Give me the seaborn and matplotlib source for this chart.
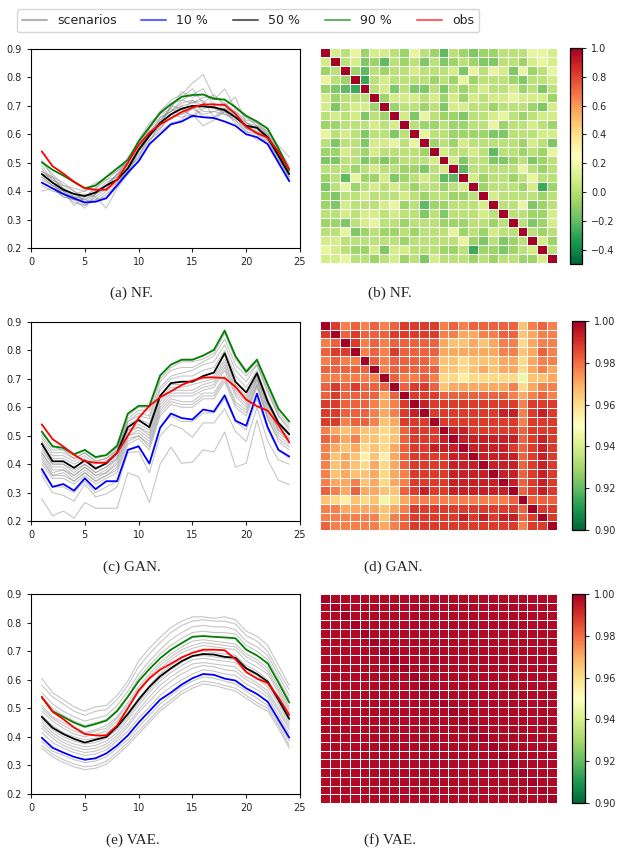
import numpy as np
import pandas as pd
import seaborn as sns
import matplotlib
matplotlib.use('Agg')
import matplotlib.pyplot as plt
from matplotlib.lines import Line2D

W, H = 626, 857
hours = list(range(1, 25))

# observed load, same in every panel
obs = [0.540, 0.488, 0.462, 0.433, 0.410, 0.405, 0.405, 0.440, 0.500, 0.562, 0.605, 0.635,
       0.656, 0.678, 0.694, 0.705, 0.705, 0.703, 0.672, 0.627, 0.604, 0.588, 0.538, 0.477]

# ---- NF ----
nf_q10 = [0.430, 0.410, 0.390, 0.375, 0.360, 0.363, 0.375, 0.420, 0.465, 0.505, 0.565, 0.600,
          0.635, 0.645, 0.665, 0.660, 0.657, 0.645, 0.630, 0.600, 0.590, 0.565, 0.500, 0.435]
nf_q50 = [0.460, 0.430, 0.405, 0.390, 0.383, 0.395, 0.420, 0.440, 0.480, 0.545, 0.595, 0.640,
          0.670, 0.690, 0.700, 0.698, 0.695, 0.685, 0.660, 0.630, 0.623, 0.590, 0.525, 0.460]
nf_q90 = [0.502, 0.475, 0.455, 0.432, 0.410, 0.420, 0.450, 0.480, 0.510, 0.575, 0.625, 0.675,
          0.705, 0.732, 0.738, 0.740, 0.725, 0.722, 0.695, 0.665, 0.645, 0.620, 0.550, 0.475]
nf_scen = [
    [0.47, 0.44, 0.41, 0.38, 0.37, 0.40, 0.43, 0.45, 0.49, 0.55, 0.60, 0.65, 0.68, 0.71, 0.72, 0.70, 0.71, 0.69, 0.66, 0.63, 0.62, 0.59, 0.53, 0.46],
    [0.44, 0.42, 0.39, 0.36, 0.35, 0.37, 0.40, 0.43, 0.47, 0.52, 0.58, 0.62, 0.66, 0.67, 0.69, 0.67, 0.68, 0.67, 0.65, 0.61, 0.60, 0.58, 0.51, 0.45],
    [0.50, 0.46, 0.42, 0.41, 0.40, 0.42, 0.45, 0.47, 0.51, 0.57, 0.63, 0.68, 0.72, 0.74, 0.78, 0.81, 0.73, 0.72, 0.70, 0.66, 0.64, 0.61, 0.55, 0.48],
    [0.40, 0.41, 0.38, 0.37, 0.36, 0.39, 0.41, 0.44, 0.46, 0.54, 0.59, 0.63, 0.70, 0.69, 0.66, 0.71, 0.69, 0.69, 0.66, 0.62, 0.63, 0.58, 0.52, 0.45],
    [0.46, 0.45, 0.40, 0.35, 0.38, 0.40, 0.42, 0.46, 0.50, 0.56, 0.62, 0.66, 0.68, 0.72, 0.74, 0.76, 0.70, 0.71, 0.67, 0.64, 0.62, 0.60, 0.53, 0.47],
    [0.48, 0.43, 0.41, 0.39, 0.37, 0.36, 0.39, 0.42, 0.48, 0.53, 0.58, 0.61, 0.64, 0.65, 0.70, 0.66, 0.66, 0.68, 0.64, 0.61, 0.58, 0.58, 0.52, 0.44],
    [0.45, 0.42, 0.40, 0.38, 0.38, 0.41, 0.45, 0.48, 0.50, 0.58, 0.64, 0.67, 0.69, 0.75, 0.73, 0.74, 0.72, 0.76, 0.69, 0.66, 0.63, 0.60, 0.55, 0.49],
    [0.49, 0.44, 0.42, 0.40, 0.36, 0.37, 0.38, 0.43, 0.47, 0.55, 0.60, 0.62, 0.67, 0.70, 0.71, 0.72, 0.66, 0.69, 0.67, 0.63, 0.61, 0.59, 0.54, 0.47],
    [0.43, 0.41, 0.38, 0.37, 0.39, 0.38, 0.34, 0.41, 0.46, 0.51, 0.57, 0.64, 0.67, 0.66, 0.67, 0.63, 0.65, 0.68, 0.65, 0.62, 0.60, 0.57, 0.50, 0.44],
    [0.47, 0.45, 0.43, 0.40, 0.38, 0.41, 0.44, 0.45, 0.52, 0.56, 0.61, 0.64, 0.70, 0.73, 0.76, 0.71, 0.74, 0.70, 0.73, 0.64, 0.63, 0.61, 0.56, 0.52],
    [0.46, 0.43, 0.39, 0.37, 0.34, 0.39, 0.42, 0.46, 0.49, 0.54, 0.59, 0.66, 0.68, 0.70, 0.66, 0.69, 0.70, 0.67, 0.66, 0.63, 0.62, 0.59, 0.53, 0.46],
    [0.51, 0.45, 0.41, 0.39, 0.40, 0.43, 0.44, 0.47, 0.50, 0.57, 0.62, 0.68, 0.71, 0.72, 0.71, 0.73, 0.73, 0.71, 0.68, 0.65, 0.64, 0.60, 0.54, 0.47],
    [0.45, 0.42, 0.40, 0.37, 0.37, 0.39, 0.42, 0.44, 0.48, 0.55, 0.61, 0.65, 0.69, 0.67, 0.69, 0.70, 0.69, 0.68, 0.67, 0.62, 0.61, 0.59, 0.52, 0.45],
    [0.42, 0.40, 0.39, 0.38, 0.35, 0.38, 0.41, 0.46, 0.48, 0.52, 0.60, 0.63, 0.66, 0.68, 0.72, 0.68, 0.68, 0.69, 0.68, 0.64, 0.62, 0.58, 0.51, 0.46],
]

# ---- GAN ----
gan_q10 = [0.383, 0.320, 0.330, 0.307, 0.350, 0.312, 0.340, 0.340, 0.450, 0.463, 0.402, 0.528,
           0.578, 0.562, 0.557, 0.592, 0.585, 0.642, 0.553, 0.535, 0.648, 0.530, 0.450, 0.427]
gan_q50 = [0.472, 0.410, 0.410, 0.387, 0.413, 0.384, 0.403, 0.440, 0.530, 0.555, 0.530, 0.640,
           0.685, 0.690, 0.690, 0.710, 0.722, 0.790, 0.690, 0.652, 0.720, 0.620, 0.545, 0.505]
gan_q90 = [0.515, 0.463, 0.457, 0.435, 0.450, 0.425, 0.432, 0.465, 0.578, 0.605, 0.605, 0.712,
           0.750, 0.767, 0.767, 0.782, 0.802, 0.870, 0.780, 0.725, 0.767, 0.680, 0.595, 0.550]
gan_scen = [
    [0.50, 0.45, 0.45, 0.42, 0.44, 0.41, 0.42, 0.46, 0.56, 0.59, 0.59, 0.70, 0.74, 0.76, 0.76, 0.77, 0.79, 0.86, 0.77, 0.72, 0.76, 0.67, 0.58, 0.54],
    [0.48, 0.43, 0.43, 0.41, 0.43, 0.40, 0.41, 0.45, 0.55, 0.57, 0.56, 0.67, 0.71, 0.72, 0.73, 0.75, 0.76, 0.82, 0.73, 0.69, 0.75, 0.65, 0.57, 0.52],
    [0.46, 0.40, 0.40, 0.38, 0.40, 0.37, 0.39, 0.43, 0.52, 0.54, 0.52, 0.64, 0.68, 0.68, 0.69, 0.70, 0.71, 0.77, 0.68, 0.64, 0.71, 0.61, 0.54, 0.50],
    [0.44, 0.39, 0.39, 0.36, 0.39, 0.36, 0.38, 0.42, 0.51, 0.53, 0.50, 0.62, 0.66, 0.66, 0.66, 0.68, 0.69, 0.75, 0.66, 0.62, 0.70, 0.60, 0.52, 0.49],
    [0.43, 0.37, 0.38, 0.35, 0.38, 0.35, 0.37, 0.40, 0.50, 0.51, 0.48, 0.60, 0.64, 0.64, 0.64, 0.66, 0.67, 0.73, 0.64, 0.60, 0.69, 0.58, 0.51, 0.48],
    [0.42, 0.36, 0.37, 0.34, 0.37, 0.34, 0.36, 0.39, 0.49, 0.50, 0.47, 0.59, 0.63, 0.62, 0.62, 0.65, 0.65, 0.71, 0.62, 0.59, 0.68, 0.57, 0.50, 0.47],
    [0.40, 0.35, 0.35, 0.33, 0.36, 0.33, 0.35, 0.37, 0.47, 0.49, 0.45, 0.57, 0.61, 0.60, 0.60, 0.63, 0.63, 0.69, 0.60, 0.57, 0.67, 0.56, 0.48, 0.45],
    [0.49, 0.44, 0.44, 0.42, 0.44, 0.41, 0.42, 0.45, 0.55, 0.58, 0.57, 0.69, 0.73, 0.74, 0.74, 0.76, 0.78, 0.84, 0.75, 0.71, 0.75, 0.66, 0.57, 0.53],
    [0.47, 0.42, 0.42, 0.40, 0.42, 0.39, 0.40, 0.44, 0.54, 0.56, 0.54, 0.66, 0.70, 0.71, 0.71, 0.73, 0.74, 0.80, 0.71, 0.67, 0.73, 0.63, 0.55, 0.51],
    [0.45, 0.40, 0.40, 0.37, 0.40, 0.37, 0.39, 0.42, 0.52, 0.53, 0.51, 0.63, 0.67, 0.67, 0.68, 0.69, 0.70, 0.76, 0.67, 0.63, 0.71, 0.61, 0.53, 0.49],
    [0.51, 0.46, 0.45, 0.43, 0.45, 0.42, 0.43, 0.46, 0.57, 0.60, 0.60, 0.71, 0.75, 0.77, 0.77, 0.78, 0.80, 0.87, 0.78, 0.73, 0.77, 0.68, 0.59, 0.55],
    [0.41, 0.36, 0.36, 0.34, 0.37, 0.34, 0.36, 0.38, 0.48, 0.50, 0.46, 0.58, 0.62, 0.61, 0.61, 0.64, 0.64, 0.70, 0.61, 0.58, 0.68, 0.56, 0.49, 0.46],
    [0.44, 0.38, 0.38, 0.36, 0.39, 0.36, 0.37, 0.41, 0.50, 0.52, 0.49, 0.61, 0.65, 0.65, 0.65, 0.67, 0.68, 0.74, 0.65, 0.61, 0.70, 0.59, 0.52, 0.48],
    [0.37, 0.32, 0.32, 0.30, 0.34, 0.30, 0.32, 0.34, 0.45, 0.46, 0.40, 0.53, 0.57, 0.55, 0.55, 0.58, 0.58, 0.63, 0.55, 0.52, 0.63, 0.52, 0.45, 0.42],
    [0.36, 0.30, 0.29, 0.27, 0.33, 0.285, 0.295, 0.32, 0.44, 0.445, 0.37, 0.50, 0.54, 0.525, 0.495, 0.545, 0.545, 0.595, 0.515, 0.48, 0.60, 0.48, 0.415, 0.40],
    [0.278, 0.218, 0.235, 0.21, 0.265, 0.245, 0.245, 0.245, 0.37, 0.355, 0.265, 0.40, 0.46, 0.403, 0.407, 0.45, 0.443, 0.513, 0.39, 0.403, 0.555, 0.415, 0.343, 0.328],
]

# ---- VAE ----
vae_q10 = [0.397, 0.362, 0.345, 0.330, 0.320, 0.325, 0.342, 0.370, 0.405, 0.450, 0.490, 0.530,
           0.555, 0.583, 0.605, 0.620, 0.617, 0.604, 0.597, 0.570, 0.550, 0.523, 0.460, 0.397]
vae_q50 = [0.470, 0.432, 0.410, 0.393, 0.380, 0.390, 0.400, 0.435, 0.480, 0.530, 0.575, 0.612,
           0.640, 0.665, 0.683, 0.690, 0.688, 0.680, 0.677, 0.640, 0.620, 0.593, 0.530, 0.463]
vae_q90 = [0.538, 0.490, 0.470, 0.450, 0.435, 0.445, 0.457, 0.490, 0.540, 0.595, 0.637, 0.675,
           0.705, 0.728, 0.750, 0.753, 0.750, 0.748, 0.745, 0.705, 0.685, 0.657, 0.590, 0.520]
vae_scen = [
    [0.605, 0.555, 0.53, 0.505, 0.49, 0.505, 0.51, 0.545, 0.595, 0.665, 0.71, 0.748, 0.783, 0.805, 0.82, 0.82, 0.815, 0.82, 0.81, 0.77, 0.752, 0.72, 0.65, 0.58],
    [0.58, 0.54, 0.515, 0.49, 0.475, 0.49, 0.495, 0.53, 0.58, 0.645, 0.69, 0.73, 0.765, 0.79, 0.805, 0.81, 0.805, 0.805, 0.795, 0.755, 0.735, 0.70, 0.63, 0.565],
    [0.555, 0.515, 0.49, 0.47, 0.455, 0.465, 0.475, 0.51, 0.56, 0.62, 0.665, 0.705, 0.74, 0.765, 0.785, 0.79, 0.785, 0.785, 0.775, 0.735, 0.715, 0.685, 0.615, 0.545],
    [0.54, 0.50, 0.475, 0.455, 0.44, 0.45, 0.46, 0.495, 0.545, 0.605, 0.65, 0.69, 0.72, 0.745, 0.765, 0.77, 0.765, 0.765, 0.76, 0.72, 0.70, 0.67, 0.60, 0.53],
    [0.51, 0.47, 0.45, 0.43, 0.415, 0.425, 0.44, 0.47, 0.52, 0.575, 0.62, 0.66, 0.69, 0.715, 0.735, 0.74, 0.735, 0.73, 0.725, 0.69, 0.67, 0.64, 0.575, 0.505],
    [0.50, 0.465, 0.44, 0.42, 0.41, 0.42, 0.43, 0.465, 0.51, 0.565, 0.61, 0.65, 0.68, 0.705, 0.72, 0.73, 0.725, 0.72, 0.715, 0.68, 0.66, 0.63, 0.565, 0.495],
    [0.49, 0.455, 0.43, 0.41, 0.40, 0.41, 0.42, 0.455, 0.50, 0.555, 0.60, 0.64, 0.67, 0.695, 0.71, 0.72, 0.715, 0.71, 0.705, 0.665, 0.645, 0.62, 0.555, 0.485],
    [0.475, 0.44, 0.415, 0.40, 0.39, 0.395, 0.41, 0.44, 0.485, 0.535, 0.58, 0.62, 0.65, 0.675, 0.695, 0.70, 0.695, 0.69, 0.685, 0.65, 0.63, 0.60, 0.54, 0.47],
    [0.46, 0.425, 0.40, 0.385, 0.375, 0.38, 0.395, 0.425, 0.47, 0.52, 0.565, 0.605, 0.635, 0.66, 0.68, 0.685, 0.68, 0.675, 0.67, 0.635, 0.615, 0.585, 0.525, 0.455],
    [0.45, 0.415, 0.39, 0.375, 0.365, 0.37, 0.385, 0.415, 0.46, 0.51, 0.555, 0.595, 0.625, 0.65, 0.67, 0.675, 0.67, 0.665, 0.66, 0.625, 0.605, 0.575, 0.515, 0.445],
    [0.44, 0.405, 0.38, 0.365, 0.355, 0.36, 0.375, 0.405, 0.445, 0.495, 0.54, 0.58, 0.61, 0.635, 0.655, 0.66, 0.655, 0.65, 0.645, 0.61, 0.59, 0.56, 0.50, 0.435],
    [0.43, 0.395, 0.37, 0.355, 0.345, 0.35, 0.365, 0.395, 0.435, 0.485, 0.525, 0.565, 0.595, 0.62, 0.64, 0.65, 0.645, 0.635, 0.63, 0.60, 0.58, 0.55, 0.49, 0.425],
    [0.415, 0.38, 0.36, 0.345, 0.335, 0.34, 0.355, 0.385, 0.42, 0.465, 0.505, 0.545, 0.575, 0.60, 0.62, 0.635, 0.63, 0.62, 0.615, 0.585, 0.565, 0.54, 0.475, 0.41],
    [0.385, 0.35, 0.335, 0.32, 0.31, 0.315, 0.33, 0.36, 0.39, 0.435, 0.475, 0.515, 0.545, 0.575, 0.595, 0.61, 0.605, 0.595, 0.585, 0.56, 0.535, 0.51, 0.45, 0.385],
    [0.37, 0.34, 0.32, 0.305, 0.295, 0.30, 0.315, 0.345, 0.38, 0.42, 0.46, 0.50, 0.53, 0.56, 0.58, 0.595, 0.59, 0.58, 0.57, 0.545, 0.52, 0.50, 0.44, 0.37],
    [0.36, 0.33, 0.31, 0.295, 0.285, 0.29, 0.305, 0.335, 0.37, 0.41, 0.45, 0.49, 0.52, 0.55, 0.57, 0.585, 0.58, 0.57, 0.56, 0.535, 0.51, 0.49, 0.43, 0.36],
]

# correlation matrices read cell by cell, one letter per cell
nf_levels = {'X': 1.0, 'Y': 0.16, 'L': 0.09, 'l': 0.01, 'g': -0.07, 'm': -0.14, 'd': -0.21, 'D': -0.28}
nf_rows = [
    "XLlYgLLlgYlgdlgmgglllYYL", "LXlLmgdlglmlmglgmmllgLYL", "glXgdlgllLlllLmYlYLmYglY",
    "YlgXDlLllllglgYglllgmllL", "gmdDXlLmlmmlmlglLllLglml", "LglllXgLLLlLgLgLlLLYLLLg",
    "LmlLLgXgllglmLLllglllgmL", "lLlLmlgXLmYlggmllLYlglLL", "gglllLlLXlgglggllYgllLlg",
    "YlLlmllmlXYllggggmmlllLL", "lmllmLLYlYXglgLlllllgLlm", "ggLlgLllllgXLllLldllglgY",
    "mmllmgmglllLXLmllmmglmgl", "lllglLllggmlLXdlllllYlgl", "gldYggLmglLlddXLgllglYll",
    "mlYglLlLlgllglLXglllgLDg", "gmllLlllLlgllgglXLllllgl", "gmLlllLYgldgglllLXllYmgl",
    "llLlLLlLllmlmlllLlXllggL", "ggmlLYllglllgggllglXlmgL", "llYmglgglglllYglgLllXlgl",
    "LLllllllglllllYgmlmglXLg", "YLlggLmLLlllgglDggmglLXl", "LLYllglLglmLlllglgllggLX",
]
gan_levels = {'X': 1.0, 'R': 0.993, 'r': 0.988, 'o': 0.982, 'O': 0.977, 'a': 0.971,
              'A': 0.966, 'y': 0.961, 'Y': 0.955, 'G': 0.946}
gan_rows = [
    "XrOoOoOorrrrOoOoooooAOoO", "rXorooorrrrrOOaaOOooAaOO", "OoXrOoOoooooaAAaAaOOyaOO",
    "orrXOoOrooooaaaaaaOOAaoO", "OoOOXoOooooOAAyAAAaayaOO", "oooooXOoooooAAyAaAaayaOa",
    "OOOOOOXoOOoOyyYyyyyyGAAa", "ororoooXorroAaaaaaaOyaOO", "orooooaoXrrroooooooOaOoO",
    "rroooOaOrXRrrrrrrrrrOrrr", "rroooOaOrRXrrrrrrrRROrRr", "rrOooOAarrrXrrrrrrrrOrrr",
    "OaAaAAyAorrrXRRrrrrrorrr", "oOaOAAyAorrrRXRRRRRRorRr", "OaAayAyaorrRRRXRRRRrorRr",
    "OAaAYAYaorrrrRRXRRRRorRr", "OAaAyayaorrrrRRRXRRRorRr", "OAaAAayaOrrrrRRRRXRRorRr",
    "OaaOAayaOrrrrRRRRRXRorRr", "oOaoaaAAorRrrRRRRRRXorRr", "AyYAyAGyaOOOOOOOOOOoXooo",
    "OOaaaaAaOrrrrrrrrrrroXrr", "OOOOOOAOorrrrrRrRrRRorXr", "oOOOOOaOorrrrrrrrrrrOrrX",
]
vae_levels = {'X': 1.0, 'x': 0.998}
vae_rows = ["x" * i + "X" + "x" * (23 - i) for i in range(24)]


def decode(rows, levels):
    return np.array([[levels[c] for c in r] for r in rows])


sns.set_style('ticks')
plt.rcParams['font.family'] = ['DejaVu Sans']

fig = plt.figure(figsize=(W / 100, H / 100), dpi=100)


def box(l, t, r, b):
    return [l / W, 1 - b / H, (r - l) / W, (b - t) / H]


def draw_lines(rect, scen, q10, q50, q90):
    ax = fig.add_axes(box(*rect))
    long = pd.DataFrame([(i, h, v) for i, s in enumerate(scen) for h, v in zip(hours, s)],
                        columns=['scen', 'hour', 'value'])
    sns.lineplot(data=long, x='hour', y='value', units='scen', estimator=None,
                 color='gray', alpha=0.45, lw=0.8, ax=ax)
    sns.lineplot(x=hours, y=q10, color='blue', lw=1.3, ax=ax)
    sns.lineplot(x=hours, y=q50, color='black', lw=1.3, ax=ax)
    sns.lineplot(x=hours, y=q90, color='green', lw=1.3, ax=ax)
    sns.lineplot(x=hours, y=obs, color='red', lw=1.3, ax=ax)
    ax.set_xlim(0, 25)
    ax.set_ylim(0.2, 0.9)
    ax.set_xticks([0, 5, 10, 15, 20, 25])
    ax.set_yticks([0.2, 0.3, 0.4, 0.5, 0.6, 0.7, 0.8, 0.9])
    ax.set_xlabel('')
    ax.set_ylabel('')
    ax.tick_params(labelsize=7, length=3, width=0.8)
    for sp in ax.spines.values():
        sp.set_visible(True)
        sp.set_color('black')
        sp.set_linewidth(0.8)


def draw_heat(rect, crect, mat, vmin, vmax, ticks):
    ax = fig.add_axes(box(*rect))
    cax = fig.add_axes(box(*crect))
    sns.heatmap(mat, ax=ax, cbar_ax=cax, cmap='RdYlGn_r', vmin=vmin, vmax=vmax,
                linewidths=0.6, linecolor='white', xticklabels=False, yticklabels=False,
                cbar_kws={'ticks': ticks})
    cb = ax.collections[0].colorbar
    cb.outline.set_linewidth(0.9)
    cb.outline.set_edgecolor('black')
    cax.tick_params(labelsize=7, length=3, width=0.8)


draw_lines((31, 49, 300, 248), nf_scen, nf_q10, nf_q50, nf_q90)
draw_lines((31, 322, 300, 521), gan_scen, gan_q10, gan_q50, gan_q90)
draw_lines((31, 594, 300, 794), vae_scen, vae_q10, vae_q50, vae_q90)

draw_heat((320, 48, 557, 263), (570, 48, 582, 264), decode(nf_rows, nf_levels),
          -0.5, 1.0, [-0.4, -0.2, 0.0, 0.2, 0.4, 0.6, 0.8, 1.0])
draw_heat((320, 321, 557, 530), (572, 321, 585, 530), decode(gan_rows, gan_levels),
          0.90, 1.00, [0.90, 0.92, 0.94, 0.96, 0.98, 1.00])
draw_heat((320, 594, 557, 803), (572, 594, 585, 803), decode(vae_rows, vae_levels),
          0.90, 1.00, [0.90, 0.92, 0.94, 0.96, 0.98, 1.00])

captions = [('(a) NF.', 131, 293), ('(b) NF.', 390, 293),
            ('(c) GAN.', 132, 567), ('(d) GAN.', 393, 567),
            ('(e) VAE.', 133, 840), ('(f) VAE.', 390, 840)]
for txt, cx, cy in captions:
    fig.text(cx / W, 1 - cy / H, txt, ha='center', va='center',
             family='Liberation Serif', fontsize=11)

handles = [Line2D([], [], color=c, lw=1.5, alpha=0.6)
           for c in ['gray', 'blue', 'black', 'green', 'red']]
fig.legend(handles, ['scenarios', '10 %', '50 %', '90 %', 'obs'], ncol=5, fontsize=9,
           loc='center', bbox_to_anchor=(248 / W, 1 - 20.5 / H))

fig.savefig('out.png', dpi=100)
